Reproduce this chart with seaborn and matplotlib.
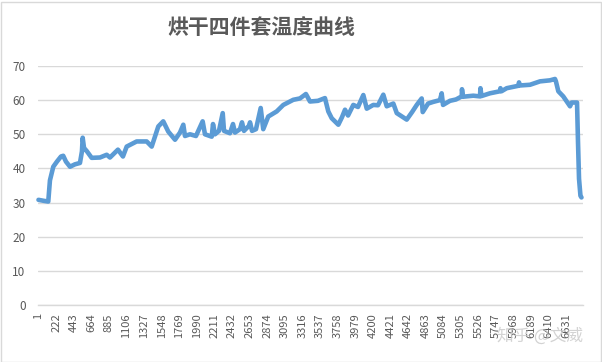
import matplotlib
matplotlib.use("Agg")
import matplotlib.pyplot as plt
import seaborn as sns
import pandas as pd
from matplotlib.patches import Rectangle

# ---- data ----
title = "烘干四件套温度曲线"
sample_idx = [1, 70, 124, 133, 145, 187, 233, 284, 312, 346, 397, 459, 522, 547, 556, 573,
              610, 669, 773, 858, 899, 999, 1062, 1109, 1234, 1360, 1423, 1506, 1568, 1631,
              1716, 1778, 1820, 1841, 1904, 1979, 2063, 2092, 2177, 2193, 2218, 2268, 2315,
              2331, 2406, 2444, 2469, 2532, 2557, 2582, 2645, 2658, 2683, 2733, 2792, 2824,
              2887, 2993, 3076, 3201, 3285, 3360, 3411, 3511, 3599, 3641, 3684, 3767, 3813,
              3851, 3889, 3955, 4014, 4081, 4124, 4206, 4265, 4332, 4375, 4458, 4501, 4626,
              4693, 4752, 4814, 4827, 4894, 4960, 5043, 5065, 5082, 5169, 5245, 5317, 5320,
              5333, 5462, 5546, 5552, 5565, 5671, 5797, 5803, 5816, 5882, 6027, 6036, 6049,
              6174, 6300, 6425, 6488, 6500, 6530, 6592, 6677, 6698, 6765, 6777, 6790, 6808,
              6821]
temperature = [30.8, 30.5, 30.3, 33.0, 36.5, 40.5, 42.0, 43.5, 43.7, 42.0, 40.5, 41.2, 41.6,
               45.0, 49.0, 46.0, 45.0, 43.1, 43.2, 44.0, 43.2, 45.5, 43.5, 46.4, 47.9, 47.9,
               46.4, 52.3, 53.8, 50.8, 48.4, 50.5, 52.8, 49.5, 50.0, 49.5, 53.8, 50.0, 49.3,
               53.0, 50.0, 51.0, 56.2, 51.0, 50.3, 53.0, 50.5, 51.5, 53.5, 51.0, 52.5, 53.5,
               51.0, 51.5, 57.7, 51.5, 55.2, 56.7, 58.6, 60.1, 60.5, 61.8, 59.6, 59.8, 60.6,
               56.7, 54.7, 52.8, 55.0, 57.2, 55.5, 58.6, 58.0, 61.5, 57.5, 58.6, 58.5, 61.6,
               58.2, 59.0, 56.2, 54.3, 56.5, 58.6, 60.5, 56.5, 59.0, 59.5, 60.0, 62.0, 58.6,
               59.8, 60.2, 61.1, 63.2, 61.0, 61.3, 61.1, 63.5, 61.2, 62.0, 62.6, 63.5, 62.6,
               63.5, 64.2, 65.2, 64.3, 64.5, 65.5, 65.8, 66.2, 65.5, 62.6, 61.1, 58.2, 59.3,
               59.3, 48.0, 37.0, 32.0, 31.5]
x_ticks = [1, 222, 443, 664, 885, 1106, 1327, 1548, 1769, 1990, 2211, 2432, 2653, 2874,
           3095, 3316, 3537, 3758, 3979, 4200, 4421, 4642, 4863, 5084, 5305, 5526, 5747,
           5968, 6189, 6410, 6631]
y_ticks = [0, 10, 20, 30, 40, 50, 60, 70]
watermark = "知乎 @文威"

df = pd.DataFrame({"idx": sample_idx, "temp": temperature})

sns.set_theme(style="white")
plt.rcParams["font.family"] = ["Noto Sans CJK SC", "DejaVu Sans"]

W, H = 602, 362
fig = plt.figure(figsize=(W / 100, H / 100), dpi=100)
ax = fig.add_axes([38 / W, 1 - 305 / H, (583 - 38) / W, (305 - 66) / H])

sns.lineplot(data=df, x="idx", y="temp", ax=ax, color="#5B9BD5", linewidth=3.3,
             estimator=None, sort=False)
for l in ax.lines:
    l.set_clip_on(False)
    l.set_solid_joinstyle("round")
    l.set_solid_capstyle("round")

ax.set_xlim(-5, 6840)
ax.set_ylim(0, 70)
ax.set_xticks(x_ticks)
ax.set_xticklabels([str(t) for t in x_ticks], rotation=90, va="top", ha="center")
ax.set_yticks(y_ticks)
ax.set_yticklabels([str(t) for t in y_ticks])
ax.tick_params(axis="both", length=0, colors="#595959", labelsize=8.5)
ax.tick_params(axis="x", pad=6, labelsize=8)
ax.tick_params(axis="y", pad=9)
ax.set_xlabel("")
ax.set_ylabel("")
ax.yaxis.grid(True, color="#D9D9D9", linewidth=1)
ax.xaxis.grid(False)
ax.set_axisbelow(True)
for s in ["left", "right", "top"]:
    ax.spines[s].set_visible(False)
ax.spines["bottom"].set_color("#D9D9D9")
ax.spines["bottom"].set_linewidth(1)

fig.text(261 / W, 1 - 28 / H, title, ha="center", va="center", fontsize=15,
         fontweight="bold", color="#595959")
fig.text(540 / W, 1 - 336 / H, watermark, ha="center", va="center", fontsize=12,
         color="#C8C8C8", alpha=0.8)

fig.patches.append(Rectangle((0.5 / W, 0.5 / H), (W - 1.5) / W, (H - 2) / H,
                             transform=fig.transFigure, fill=False,
                             edgecolor="#D9D9D9", linewidth=1))

fig.savefig("out.png", dpi=100)
